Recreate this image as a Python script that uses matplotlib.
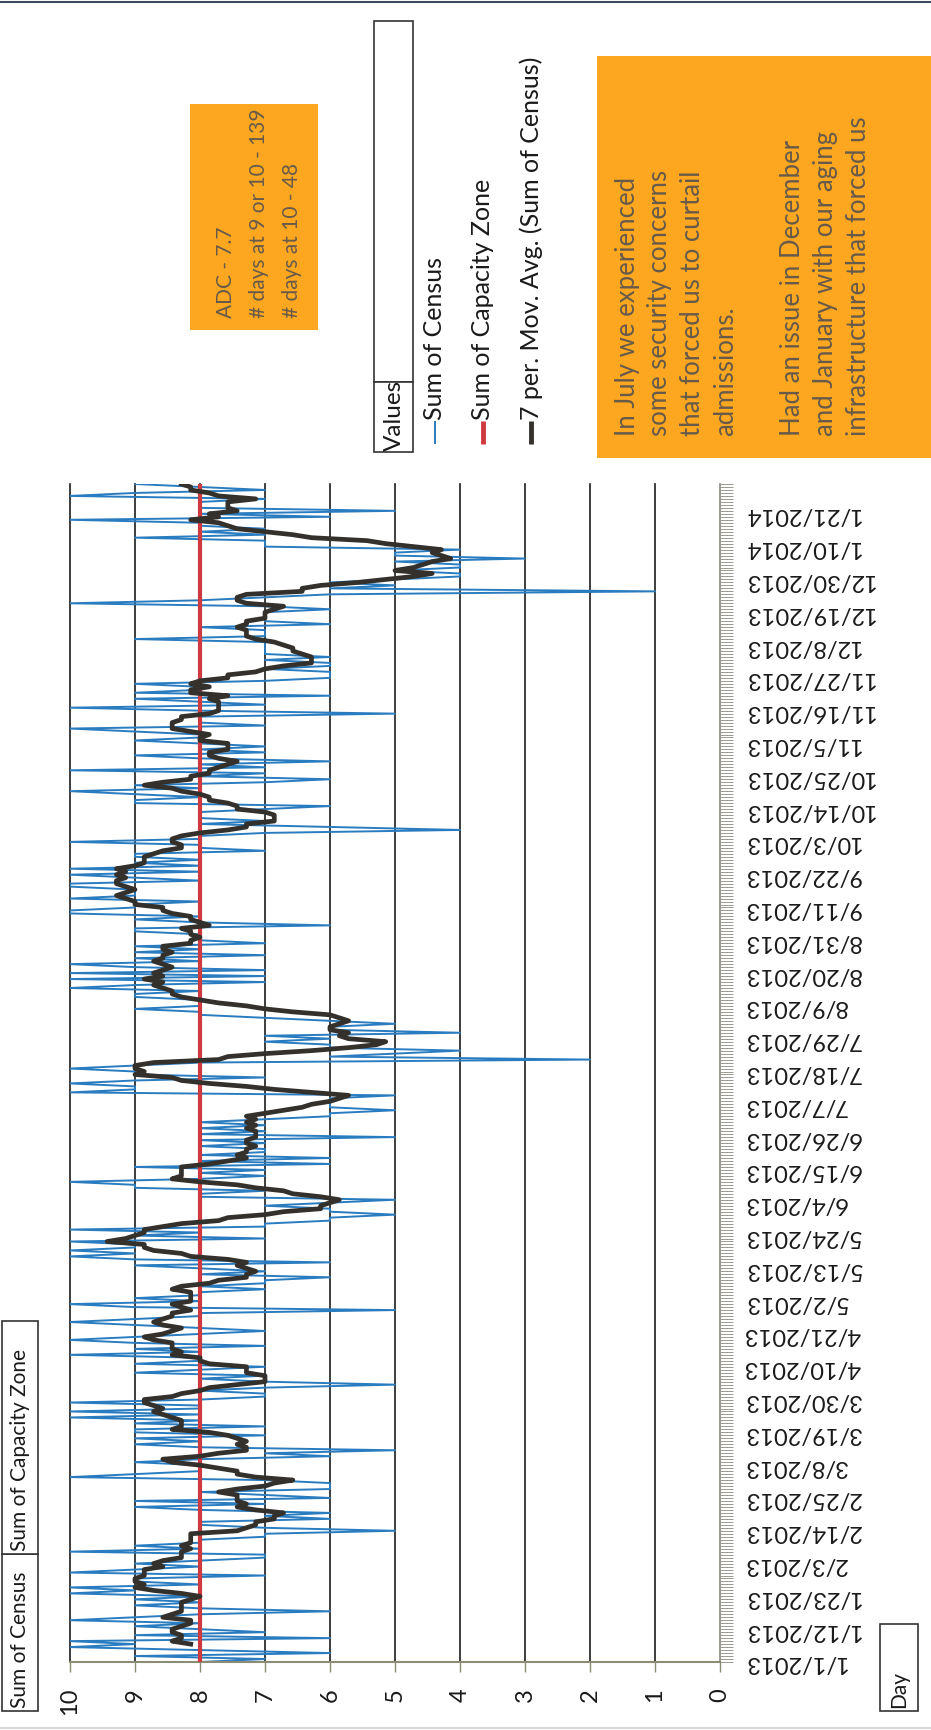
import numpy as np
import pandas as pd
import matplotlib
matplotlib.use("Agg")
import matplotlib.pyplot as plt
from matplotlib.ticker import MultipleLocator
from matplotlib.patches import Rectangle
from matplotlib.lines import Line2D

plt.rcParams['font.family'] = ['Lato', 'DejaVu Sans']

# Daily census, 1/1/2013 onward (one value per day)
census = [
    8, 7, 9, 6, 8, 10, 9,
    10, 6, 9, 7, 8, 9, 8,
    10, 9, 8, 6, 8, 9, 8,
    9, 8, 10, 9, 10, 8, 9,
    9, 7, 10, 9, 8, 9, 8,
    7, 7, 10, 8, 9, 8, 8,
    7, 7, 5, 7, 8, 8, 6,
    7, 6, 8, 9, 7, 9, 6,
    7, 8, 6, 6, 6, 7, 10,
    9, 8, 8, 8, 9, 8, 6,
    7, 5, 8, 9, 8, 9, 7,
    9, 9, 7, 9, 8, 10, 8,
    10, 8, 8, 10, 8, 7, 7,
    8, 7, 5, 7, 8, 7, 9,
    8, 7, 9, 8, 8, 10, 8,
    9, 7, 9, 10, 9, 8, 7,
    8, 9, 10, 9, 8, 8, 5,
    9, 10, 8, 9, 8, 8, 7,
    8, 7, 7, 6, 8, 7, 8,
    9, 6, 9, 10, 9, 10, 9,
    9, 10, 7, 9, 8, 10, 7,
    7, 6, 6, 5, 6, 6, 7,
    6, 5, 8, 8, 7, 9, 9,
    10, 8, 7, 8, 7, 9, 6,
    8, 6, 8, 7, 7, 8, 7,
    8, 5, 8, 7, 8, 7, 8,
    7, 6, 6, 5, 6, 6, 6,
    6, 5, 10, 9, 9, 10, 9,
    7, 9, 9, 10, 9, 8, 2,
    6, 5, 4, 6, 6, 7, 6,
    7, 4, 6, 6, 5, 6, 7,
    8, 8, 9, 8, 8, 8, 9,
    9, 8, 10, 9, 7, 10, 7,
    10, 7, 9, 10, 8, 9, 7,
    9, 8, 9, 7, 8, 8, 8,
    9, 9, 6, 8, 9, 8, 10,
    10, 9, 9, 8, 10, 9, 9,
    9, 10, 10, 8, 9, 10, 8,
    10, 8, 9, 8, 9, 9, 7,
    8, 8, 10, 8, 8, 7, 4,
    6, 8, 7, 8, 8, 8, 7,
    6, 9, 9, 8, 9, 10, 8,
    9, 7, 6, 8, 7, 10, 7,
    8, 6, 8, 9, 7, 8, 7,
    8, 9, 8, 8, 9, 10, 7,
    8, 8, 8, 5, 8, 10, 7,
    8, 9, 6, 9, 8, 8, 9,
    7, 6, 6, 6, 7, 6, 6,
    7, 6, 7, 7, 7, 7, 7,
    9, 7, 7, 7, 8, 6, 7,
    7, 7, 7, 6, 7, 10, 8,
    7, 6, 1, 6, 5, 6, 5,
    4, 4, 5, 4, 4, 5, 3,
    5, 5, 4, 7, 7, 7, 9,
    7, 8, 7, 8, 8, 10, 6,
    8, 5, 8, 8, 8, 7, 10,
    9, 7, 8, 9,
]
capacity_zone = 8
ma_window = 7

date_labels = [
    "1/1/2013", "1/12/2013", "1/23/2013", "2/3/2013", "2/14/2013", "2/25/2013",
    "3/8/2013", "3/19/2013", "3/30/2013", "4/10/2013", "4/21/2013", "5/2/2013",
    "5/13/2013", "5/24/2013", "6/4/2013", "6/15/2013", "6/26/2013", "7/7/2013",
    "7/18/2013", "7/29/2013", "8/9/2013", "8/20/2013", "8/31/2013", "9/11/2013",
    "9/22/2013", "10/3/2013", "10/14/2013", "10/25/2013", "11/5/2013", "11/16/2013",
    "11/27/2013", "12/8/2013", "12/19/2013", "12/30/2013", "1/10/2014", "1/21/2014",
]
label_step = 11
value_ticks = list(range(0, 11))
value_labels = [str(v) for v in value_ticks]

legend_names = ["Sum of Census", "Sum of Capacity Zone", "7 per. Mov. Avg. (Sum of Census)"]
stats_lines = ["ADC - 7.7", "# days at 9 or 10 - 139", "# days at 10 - 48"]
note_lines = ["In July we experienced", "some security concerns", "that forced us to curtail",
              "admissions.", "", "Had an issue in December", "and January with our aging",
              "infrastructure that forced us"]

BLUE = "#2a7cc0"
RED = "#cf3a40"
DARK = "#34302c"
ORANGE = "#fca71f"
NOTE_TEXT = "#675a4a"
AXIS_GRAY = "#8c8c74"

W, H = 931, 1731
fig = plt.figure(figsize=(W / 100, H / 100), dpi=100)
fig.patch.set_facecolor("white")


def fx(x):
    return x / W


def fy(y):
    return 1 - y / H


days = np.arange(len(census))
census_arr = np.array(census, dtype=float)
capacity = np.full(len(census), capacity_zone, dtype=float)
mov_avg = pd.Series(census_arr).rolling(ma_window).mean().to_numpy()

# Plot area: value runs right-to-left, days run bottom-to-top
ax = fig.add_axes([fx(70), fy(1663), (720 - 70) / W, (1663 - 485) / H])
ax.set_xlim(10, 0)
ax.set_ylim(0, len(census) - 1)

for v in range(1, 11):
    ax.axvline(v, color="#1c1c1c", lw=1.2, zorder=1, clip_on=False)

ax.plot(census_arr, days, color=BLUE, lw=1.4, zorder=2)
ax.plot(capacity, days, color=RED, lw=3.0, zorder=3)
ax.plot(mov_avg, days, color=DARK, lw=3.4, zorder=4, solid_joinstyle="round")

ax.set_xticks(value_ticks)
ax.set_xticklabels(value_labels, rotation=90, fontsize=17, color="#1a1a1a")
ax.tick_params(axis="x", direction="out", length=7, width=1.0, color=AXIS_GRAY, pad=11)

ax.yaxis.tick_right()
ax.set_yticks(np.arange(0, len(census), label_step)[:len(date_labels)])
ax.set_yticklabels(date_labels, fontsize=17, color="#1a1a1a")
for lbl in ax.get_yticklabels():
    lbl.set_rotation(180)
    lbl.set_va("center")
ax.yaxis.set_minor_locator(MultipleLocator(1))
ax.tick_params(axis="y", which="both", direction="out", length=9, width=0.6,
               color="#8a8a80", pad=8, left=False, right=True)

for side in ("top", "left"):
    ax.spines[side].set_visible(False)
ax.spines["bottom"].set_color(AXIS_GRAY)
ax.spines["bottom"].set_linewidth(1.5)
ax.spines["right"].set_color("#8a8a80")
ax.spines["right"].set_linewidth(1.2)


def box(x0, y0, x1, y1, fc="white", ec="#333333", lw=1.2):
    fig.add_artist(Rectangle((fx(x0), fy(y1)), (x1 - x0) / W, (y1 - y0) / H,
                             transform=fig.transFigure, facecolor=fc, edgecolor=ec, lw=lw))


def vtext(x, y, s, size=16, color="#1a1a1a", va="bottom"):
    fig.text(fx(x), fy(y), s, rotation=90, ha="center", va=va, fontsize=size, color=color)


# Field buttons
box(2, 1555, 38, 1712)
box(2, 1322, 38, 1555)
vtext(20, 1708, "Sum of Census", size=15)
vtext(20, 1551, "Sum of Capacity Zone", size=15)
box(880, 1625, 918, 1712)
vtext(899, 1708, "Day", size=15)

# Legend area
box(374, 22, 413, 383)
box(374, 383, 413, 453)
vtext(394, 451, "Values", size=17.5)
legend_x = [435, 483, 531]
legend_style = [(BLUE, 1.4), (RED, 3.5), (DARK, 3.5)]
for lx, name, (col, lw) in zip(legend_x, legend_names, legend_style):
    fig.add_artist(Line2D([fx(lx), fx(lx)], [fy(445), fy(422)], transform=fig.transFigure,
                          color=col, lw=lw, solid_capstyle="butt"))
    vtext(lx, 420, name, size=18)

# Annotation boxes
box(190, 105, 318, 331, fc=ORANGE, ec="none", lw=0)
for lx, s in zip([226, 259, 292], stats_lines):
    vtext(lx, 318, s, size=15, color=NOTE_TEXT)

box(597, 57, 931, 459, fc=ORANGE, ec="none", lw=0)
for i, s in enumerate(note_lines):
    if s:
        vtext(627 + 33 * i, 436, s, size=18.5, color=NOTE_TEXT)

# Page edges
fig.add_artist(Line2D([0, 1], [fy(3), fy(3)], transform=fig.transFigure, color="#3f4a60", lw=1.5))
fig.add_artist(Line2D([0, 1], [fy(1729), fy(1729)], transform=fig.transFigure, color="#cfcfcf", lw=1.2))

fig.savefig("out.png", dpi=100)
